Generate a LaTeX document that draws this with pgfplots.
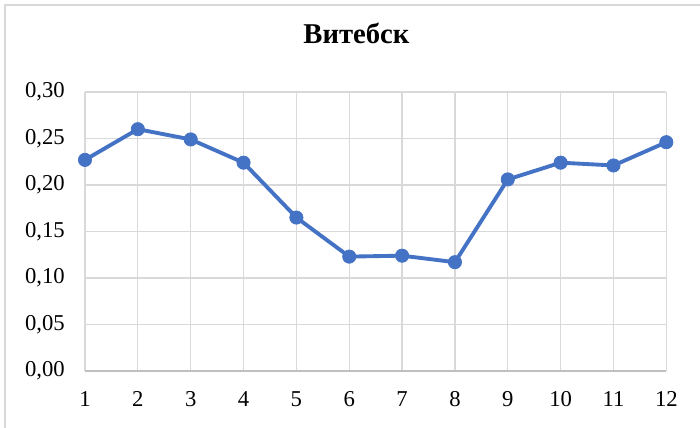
\documentclass[border=0pt]{standalone}
\usepackage{fontspec}
\setmainfont{Liberation Serif}
\usepackage{pgfplots}
\pgfplotsset{compat=1.18}
\definecolor{excelblue}{HTML}{4472C4}
\definecolor{gridgray}{HTML}{D9D9D9}
\definecolor{axisgray}{HTML}{BFBFBF}
\definecolor{framegray}{HTML}{D9D9D9}
\begin{document}
\begin{tikzpicture}
\useasboundingbox (-63.75pt,-42.75pt) rectangle (461.25pt,278.25pt);
\fill[white] (-63.75pt,-42.75pt) rectangle (461.25pt,278.25pt);
\draw[framegray, line width=1.2pt] (-60pt,-42.75pt) -- (-60pt,274.5pt) -- (461.25pt,274.5pt);
\begin{axis}[
  scale only axis,
  width=436pt, height=209.25pt,
  xmin=1, xmax=12, ymin=0, ymax=0.30,
  xtick={1,...,12},
  ytick={0,0.05,...,0.30},
  grid=major,
  grid style={gridgray, line width=0.9pt},
  axis line style={draw=none},
  major tick length=0pt,
  extra y ticks={0},
  extra y tick labels={},
  extra y tick style={grid style={axisgray, line width=1.1pt}},
  font=\fontsize{17pt}{20pt}\selectfont,
  /pgf/number format/assume math mode=true,
  y tick label style={/pgf/number format/fixed, /pgf/number format/fixed zerofill, /pgf/number format/precision=2, /pgf/number format/use comma},
  yticklabel style={anchor=east, inner sep=0pt, xshift=-15pt},
  xticklabel style={anchor=center, inner sep=0pt, yshift=-21pt},
  title={\textbf{Витебск}},
  title style={at={(0.5,1)}, anchor=base, inner sep=0pt, xshift=-14.4pt, yshift=30.25pt, font=\fontsize{21.5pt}{25pt}\selectfont},
  clip=false,
]
\addplot[excelblue, line width=2.9pt, mark=*, mark size=5pt, mark options={fill=excelblue, draw=excelblue, line width=0.5pt}]
coordinates {
(1,0.227) (2,0.260) (3,0.249) (4,0.224) (5,0.165) (6,0.123)
(7,0.124) (8,0.117) (9,0.206) (10,0.224) (11,0.221) (12,0.246)
};
\end{axis}
\end{tikzpicture}
\end{document}
